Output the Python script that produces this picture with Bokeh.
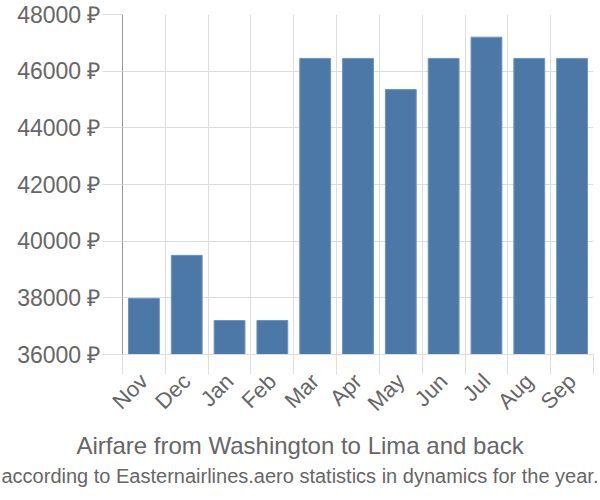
import math
from bokeh.plotting import figure
from bokeh.models import ColumnDataSource, FixedTicker, Range1d, Title, PrintfTickFormatter
from bokeh.embed import file_html
from bokeh.resources import INLINE

months = ["Nov", "Dec", "Jan", "Feb", "Mar", "Apr", "May", "Jun", "Jul", "Aug", "Sep"]
prices = [37980, 39500, 37200, 37200, 46450, 46450, 45350, 46450, 47200, 46450, 46450]
y_ticks = [36000, 38000, 40000, 42000, 44000, 46000, 48000]
title_text = "Airfare from Washington to Lima and back"
subtitle_text = "according to Easternairlines.aero statistics in dynamics for the year."

FONT = "Liberation Sans"
TXT = "#666666"
GRID = "#dddddd"
LEFT = 122

centers = [i + 0.5 for i in range(len(months))]
source = ColumnDataSource(data=dict(x=centers, top=prices, month=months))

p = figure(width=600, height=500, output_backend="svg", toolbar_location=None,
           x_range=Range1d(0, len(months)), y_range=Range1d(y_ticks[0], y_ticks[-1]),
           min_border_left=LEFT, min_border_right=7, min_border_top=14, min_border_bottom=146)
p.outline_line_color = None
p.background_fill_color = "white"
p.border_fill_color = "white"

p.vbar(x="x", top="top", bottom=y_ticks[0], width=0.72, source=source,
       fill_color="#4c78a8", line_color="#6f93bf", line_width=1)

# x axis
p.xaxis.ticker = FixedTicker(ticks=centers, minor_ticks=list(range(len(months) + 1)))
p.xaxis.major_label_overrides = {c: m for c, m in zip(centers, months)}
p.xaxis.major_tick_out = 0
p.xaxis.major_tick_in = 0
p.xaxis.minor_tick_out = 20
p.xaxis.minor_tick_in = 0
p.xaxis.minor_tick_line_color = GRID
p.xaxis.axis_line_color = GRID
p.xaxis.major_label_orientation = math.pi / 4
p.xaxis.major_label_text_font = FONT
p.xaxis.major_label_text_font_size = "22px"
p.xaxis.major_label_text_color = TXT
p.xaxis.major_label_standoff = 3

p.xgrid.grid_line_color = None
p.xgrid.minor_grid_line_color = GRID

# y axis
p.yaxis.ticker = FixedTicker(ticks=y_ticks, minor_ticks=[])
p.yaxis.formatter = PrintfTickFormatter(format="%d ₽")
p.yaxis.major_tick_out = 20
p.yaxis.major_tick_in = 0
p.yaxis.minor_tick_out = 0
p.yaxis.minor_tick_in = 0
p.yaxis.major_tick_line_color = GRID
p.yaxis.axis_line_color = "#999999"
p.yaxis.major_label_text_font = FONT
p.yaxis.major_label_text_font_size = "23px"
p.yaxis.major_label_text_color = TXT
p.yaxis.major_label_standoff = 2
p.ygrid.grid_line_color = GRID

# titles centred on the whole canvas (offsets from frame's left edge)
t1 = Title(text=title_text, align="left", offset=300 - LEFT - 18.674 * 24 / 2,
           text_font=FONT, text_font_size="24px", text_font_style="normal",
           text_color=TXT, standoff=4)
t2 = Title(text=subtitle_text, align="left", offset=300 - LEFT - 29.9 * 20 / 2,
           text_font=FONT, text_font_size="20px", text_font_style="normal",
           text_color=TXT, standoff=4)
p.add_layout(t1, "below")
p.add_layout(t2, "below")

open("out.html", "w").write(file_html(p, INLINE))
